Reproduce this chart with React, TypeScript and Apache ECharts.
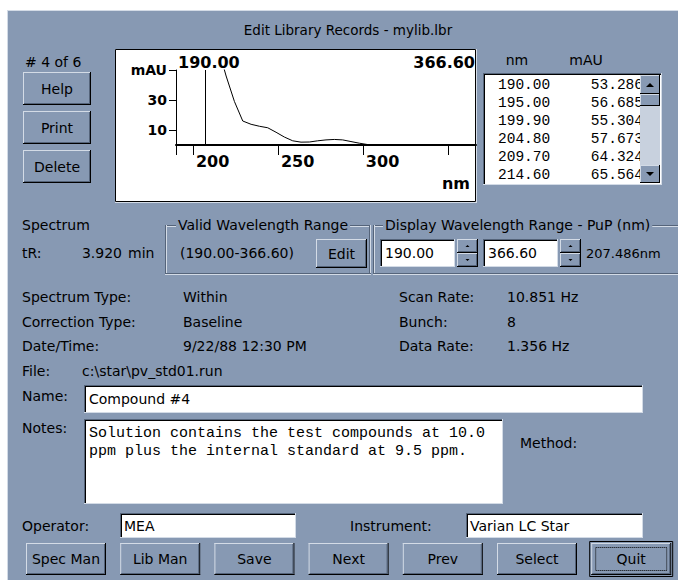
import React, { useEffect, useRef } from 'react';
import * as echarts from 'echarts';

// ---- Data ----
const specNm = [190.0, 195.0, 199.9, 204.8, 209.7, 214.6, 219.5, 224.4, 229.3, 234.2, 239.1, 244.0, 248.9, 253.8, 258.7, 263.6, 268.5, 273.4, 278.3, 283.2, 288.1, 293.0, 297.9, 302.8, 307.7, 317.5, 327.3, 337.1, 346.9, 356.7, 366.6];
const specMau = [53.286, 56.685, 55.304, 57.673, 64.324, 65.564, 46, 29, 16, 13.8, 12.5, 11.5, 8.5, 5.3, 2.8, 1.9, 2.0, 2.8, 3.4, 3.7, 3.4, 2.3, 1.2, 0.3, 0, 0, 0, 0, 0, 0, 0];
const xTickValues = [190, 200, 250, 300, 350];
const xLabelValues = [200, 250, 300];
const yTickValues = [10, 30, 50];
const cursorNm = 207.486;
const rangeStart = '190.00';
const rangeEnd = '366.60';
const listRows = 6;

const infoLeft = [
  ['Spectrum Type:', 'Within'],
  ['Correction Type:', 'Baseline'],
  ['Date/Time:', '9/22/88 12:30 PM'],
];
const infoRight = [
  ['Scan Rate:', '10.851 Hz'],
  ['Bunch:', '8'],
  ['Data Rate:', '1.356 Hz'],
];
const bottomButtons = ['Spec Man', 'Lib Man', 'Save', 'Next', 'Prev', 'Select', 'Quit'];
const sideButtons = ['Help', 'Print', 'Delete'];
const notesLines = [
  'Solution contains the test compounds at 10.0',
  'ppm plus the internal standard at 9.5 ppm.',
];

// ---- Styles ----
const BG = '#8799b3';
const LIGHT = '#d3dbe6';
const SHADOW = '#55647a';
const DARK = '#000000';
const FAM = '"DejaVu Sans", Verdana, sans-serif';
const FONT = '14px ' + FAM;
const MONO = '"Liberation Mono", "Courier New", monospace';

function buildGraphics() {
  const G: any[] = [];
  const rect = (x: number, y: number, w: number, h: number, fill: string, z = 1, extra: any = {}) =>
    G.push({ type: 'rect', silent: true, z, shape: { x, y, width: w, height: h }, style: { fill, ...extra } });
  const ln = (x1: number, y1: number, x2: number, y2: number, stroke: string, z = 2, lw = 1, dash?: number[]) =>
    G.push({ type: 'line', silent: true, z, shape: { x1, y1, x2, y2 }, style: { stroke, lineWidth: lw, lineDash: dash } });
  const T = (x: number, y: number, s: string, o: any = {}) =>
    G.push({
      type: 'text', silent: true, z: o.z || 6, x, y,
      style: {
        text: s, fill: o.fill || '#000', font: o.font || FONT,
        textAlign: o.align || 'left', align: o.align || 'left',
        textVerticalAlign: 'middle', verticalAlign: 'middle',
        backgroundColor: o.bg, padding: o.pad,
      },
    });
  const button = (x: number, y: number, w: number, h: number, label: string, def = false) => {
    if (def) rect(x - 1.5, y - 1.5, w + 3, h + 3, 'none', 3, { stroke: DARK, lineWidth: 1 });
    rect(x, y, w, h, BG, 2);
    ln(x, y + 0.5, x + w - 1, y + 0.5, LIGHT, 3);
    ln(x + 0.5, y, x + 0.5, y + h - 1, LIGHT, 3);
    ln(x, y + h - 0.5, x + w, y + h - 0.5, DARK, 3);
    ln(x + w - 0.5, y, x + w - 0.5, y + h, DARK, 3);
    ln(x + 1, y + h - 1.5, x + w - 1, y + h - 1.5, SHADOW, 3);
    ln(x + w - 1.5, y + 1, x + w - 1.5, y + h - 1, SHADOW, 3);
    if (def) rect(x + 4.5, y + 4.5, w - 9, h - 9, 'none', 4, { stroke: DARK, lineWidth: 1, lineDash: [1, 1] });
    if (label) T(x + w / 2, y + h / 2, label, { align: 'center' });
  };
  const input = (x: number, y: number, w: number, h: number) => {
    rect(x, y, w, h, '#ffffff', 2);
    ln(x, y + 0.5, x + w, y + 0.5, SHADOW, 3);
    ln(x + 0.5, y, x + 0.5, y + h, SHADOW, 3);
    ln(x + 1, y + 1.5, x + w - 1, y + 1.5, DARK, 3);
    ln(x + 1.5, y + 1, x + 1.5, y + h - 1, DARK, 3);
    ln(x, y + h - 0.5, x + w, y + h - 0.5, LIGHT, 3);
    ln(x + w - 0.5, y, x + w - 0.5, y + h, LIGHT, 3);
  };
  const etchH = (x1: number, x2: number, y: number) => {
    ln(x1, y + 0.5, x2, y + 0.5, SHADOW, 2);
    ln(x1, y + 1.5, x2, y + 1.5, LIGHT, 2);
  };
  const etchV = (x: number, y1: number, y2: number) => {
    ln(x + 0.5, y1, x + 0.5, y2, SHADOW, 2);
    ln(x + 1.5, y1, x + 1.5, y2, LIGHT, 2);
  };
  const tri = (cx: number, cy: number, up: boolean, s = 3) =>
    G.push({
      type: 'polygon', silent: true, z: 5,
      shape: { points: up ? [[cx - s, cy + s / 2], [cx + s, cy + s / 2], [cx, cy - s / 2]] : [[cx - s, cy - s / 2], [cx + s, cy - s / 2], [cx, cy + s / 2]] },
      style: { fill: DARK },
    });

  // page + dialog
  rect(0, 0, 678, 580, '#ffffff', 0);
  rect(7, 10, 680, 580, BG, 0);
  ln(7, 10.5, 678, 10.5, LIGHT, 1);
  ln(7.5, 10, 7.5, 580, LIGHT, 1);

  T(348, 30, 'Edit Library Records - mylib.lbr', { align: 'center', font: '13.5px ' + FAM });
  T(25, 62, '# 4 of 6');
  sideButtons.forEach((b, i) => button(23, 72 + i * 39, 68, 33, b));

  // plot box
  rect(115, 49, 361, 153, '#ffffff', 1);
  rect(115.5, 49.5, 360, 152, 'none', 2, { stroke: DARK, lineWidth: 1 });
  ln(115, 202.5, 477, 202.5, LIGHT, 2);
  ln(476.5, 49, 476.5, 203, LIGHT, 2);
  const BOLD = 'bold 16px ' + FAM;
  T(178, 62, rangeStart, { font: BOLD });
  T(475, 62, rangeEnd, { font: BOLD, align: 'right' });
  T(470, 183, 'nm', { font: BOLD, align: 'right' });

  // list
  T(517, 60, 'nm', { align: 'center' });
  T(586, 60, 'mAU', { align: 'center' });
  rect(483, 73, 179, 112, '#ffffff', 2);
  ln(483, 73.5, 662, 73.5, SHADOW, 3);
  ln(483.5, 73, 483.5, 185, SHADOW, 3);
  ln(484, 74.5, 661, 74.5, DARK, 3);
  ln(484.5, 74, 484.5, 184, DARK, 3);
  ln(483, 184.5, 662, 184.5, LIGHT, 3);
  ln(661.5, 73, 661.5, 185, LIGHT, 3);
  const LF = '14.5px ' + MONO;
  for (let i = 0; i < listRows; i++) {
    const y = 85 + i * 17.9;
    T(498, y, specNm[i].toFixed(2), { font: LF });
    T(643, y, specMau[i].toFixed(3), { font: LF, align: 'right' });
  }
  rect(640, 75, 20, 108, '#c8d1de', 7);
  const sbBtn = (y: number, h: number) => {
    G.push({ type: 'rect', silent: true, z: 8, shape: { x: 640, y, width: 20, height: h }, style: { fill: BG } });
    G.push({ type: 'line', silent: true, z: 8, shape: { x1: 640, y1: y + 0.5, x2: 659, y2: y + 0.5 }, style: { stroke: LIGHT } });
    G.push({ type: 'line', silent: true, z: 8, shape: { x1: 640.5, y1: y, x2: 640.5, y2: y + h - 1 }, style: { stroke: LIGHT } });
    G.push({ type: 'line', silent: true, z: 8, shape: { x1: 640, y1: y + h - 0.5, x2: 660, y2: y + h - 0.5 }, style: { stroke: DARK } });
    G.push({ type: 'line', silent: true, z: 8, shape: { x1: 659.5, y1: y, x2: 659.5, y2: y + h }, style: { stroke: DARK } });
  };
  sbBtn(75, 19);
  sbBtn(94, 12);
  sbBtn(165, 18);
  G.push({ type: 'polygon', silent: true, z: 9, shape: { points: [[646, 87], [654, 87], [650, 83]] }, style: { fill: DARK } });
  G.push({ type: 'polygon', silent: true, z: 9, shape: { points: [[646, 172], [654, 172], [650, 176]] }, style: { fill: DARK } });

  T(22, 225, 'Spectrum');
  T(22, 253, 'tR:');
  T(122, 253, '3.920', { align: 'right' });
  T(128, 253, 'min');

  // valid wavelength group
  etchH(165, 370, 225);
  etchV(165, 225, 274);
  etchV(369, 225, 274);
  etchH(165, 371, 273);
  T(176, 225, 'Valid Wavelength Range', { bg: BG, pad: [0, 2, 0, 2], z: 6 });
  T(180, 253, '(190.00-366.60)');
  button(316, 239, 51, 29, 'Edit');

  // display wavelength group
  etchH(373, 680, 225);
  etchV(373, 225, 274);
  etchH(373, 680, 273);
  T(383, 225, 'Display Wavelength Range - PuP (nm)', { bg: BG, pad: [0, 2, 0, 2], z: 6 });
  input(380, 239, 75, 28);
  T(385, 253, rangeStart);
  button(457, 239, 21, 14, '');
  button(457, 253, 21, 14, '');
  tri(467.5, 246, true, 2);
  tri(467.5, 260, false, 2);
  input(483, 239, 75, 28);
  T(488, 253, rangeEnd);
  button(560, 239, 21, 14, '');
  button(560, 253, 21, 14, '');
  tri(570.5, 246, true, 2);
  tri(570.5, 260, false, 2);
  T(586, 253, cursorNm.toFixed(3) + 'nm', { font: '13px ' + FAM });

  // info
  infoLeft.forEach(([k, v], i) => {
    T(22, 297 + i * 24.5, k);
    T(183, 297 + i * 24.5, v);
  });
  infoRight.forEach(([k, v], i) => {
    T(399, 297 + i * 24.5, k);
    T(507, 297 + i * 24.5, v);
  });
  T(22, 371, 'File:');
  T(82, 371, 'c:\\star\\pv_std01.run');

  T(22, 396, 'Name:');
  input(84, 385, 559, 28);
  T(89, 399, 'Compound #4');

  T(22, 428, 'Notes:');
  input(84, 419, 419, 85);
  notesLines.forEach((s, i) => T(89, 433 + i * 18, s, { font: '15px ' + MONO }));
  T(520, 443, 'Method:');

  T(22, 526, 'Operator:');
  input(120, 513, 176, 25);
  T(124, 526, 'MEA');
  T(350, 526, 'Instrument:');
  input(466, 513, 177, 25);
  T(470, 526, 'Varian LC Star');

  bottomButtons.forEach((b, i) => button(26 + i * 94.2, 543, 80, 32, b, b === 'Quit'));
  return G;
}

export default function App() {
  const ref = useRef<HTMLDivElement>(null);
  useEffect(() => {
    if (!ref.current) return;
    const chart = echarts.init(ref.current, null, { renderer: 'svg' });
    const axisFont = { fontFamily: FAM, fontWeight: 'bold' as const, color: '#000' };
    chart.setOption({
      animation: false,
      backgroundColor: '#ffffff',
      graphic: { elements: buildGraphics() },
      grid: { left: 176, top: 70, width: 300, height: 75, containLabel: false },
      xAxis: {
        type: 'value', min: 190, max: 366.6, z: 10,
        axisLine: { show: true, lineStyle: { color: '#000', width: 2 } },
        axisTick: { show: true, length: 10, lineStyle: { color: '#000', width: 1 }, customValues: xTickValues },
        axisLabel: { show: true, customValues: xLabelValues, align: 'left', padding: [0, 0, 0, 3], margin: 8, fontSize: 16, ...axisFont },
        splitLine: { show: false },
      },
      yAxis: {
        type: 'value', min: 0, max: 50, z: 10,
        axisLine: { show: true, lineStyle: { color: '#000', width: 1 } },
        axisTick: { show: true, length: 7, lineStyle: { color: '#000' }, customValues: yTickValues },
        axisLabel: {
          show: true, customValues: yTickValues, margin: 9, fontSize: 14, ...axisFont,
          formatter: (v: number) => (v === 50 ? 'mAU' : String(v)),
        },
        splitLine: { show: false },
      },
      series: [
        {
          type: 'line', z: 10, showSymbol: false, clip: true,
          data: specNm.map((n, i) => [n, specMau[i]]),
          lineStyle: { color: '#000', width: 1 },
          markLine: {
            silent: true, symbol: ['none', 'none'], label: { show: false },
            lineStyle: { color: '#000', width: 1, type: 'solid' },
            data: [{ xAxis: cursorNm }],
          },
        },
      ],
    });
    return () => chart.dispose();
  }, []);
  return <div ref={ref} style={{ position: 'fixed', left: 0, top: 0, width: 678, height: 580 }} />;
}
